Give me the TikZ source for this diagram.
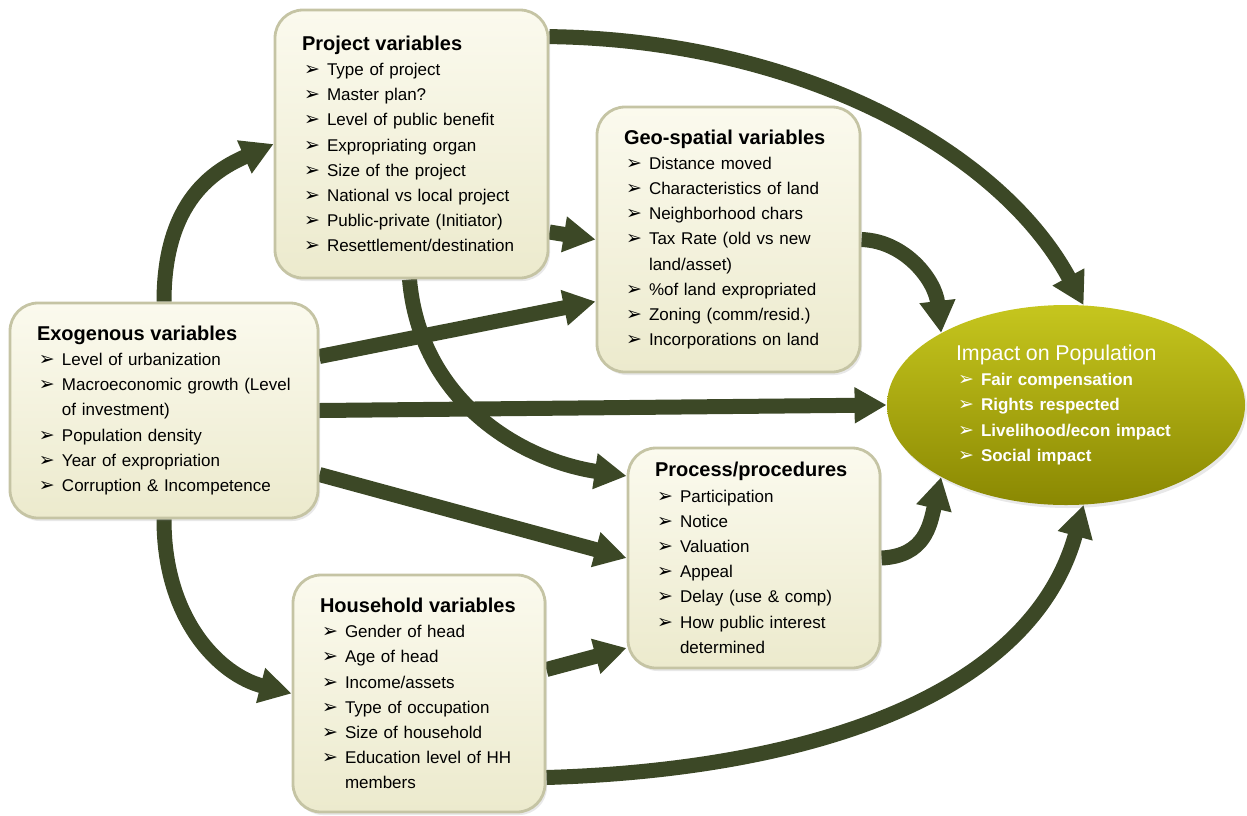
\documentclass[tikz,border=0pt]{standalone}
\usepackage{fontspec}
\setmainfont{Liberation Sans}
\newfontfamily\dingfont{DejaVu Sans}
\usepackage{tikz}
\usetikzlibrary{arrows.meta}
\usetikzlibrary{shapes.geometric}
\usetikzlibrary{shadows}
\usetikzlibrary{backgrounds}
\definecolor{boxtop}{HTML}{FBFAEE}
\definecolor{boxbot}{HTML}{ECEACD}
\definecolor{boxline}{HTML}{C5C4A4}
\definecolor{arrowolive}{HTML}{3C4826}
\definecolor{imptop}{HTML}{C6C61E}
\definecolor{impbot}{HTML}{8A8802}
\newcommand{\bul}{\makebox[12.5pt][l]{\hspace{1pt}{\dingfont\fontsize{9.5}{9}\selectfont ➢}}}
\newcommand{\itm}[1]{\par{\leftskip=12.5pt\noindent\hskip-12.5pt\bul#1\par}}
\newcommand{\wrap}{\hfil\break}
\newcommand{\boxhead}[1]{{\fontsize{10}{12.6}\selectfont\bfseries #1}}
\tikzstyle{varbox} = [draw=boxline, line width=1.4pt, rounded corners=14pt, top color=boxtop, bottom color=boxbot, align=left, inner xsep=13.5pt, inner ysep=0pt, drop shadow={opacity=0.18, shadow xshift=1pt, shadow yshift=-1.5pt}, font=\fontsize{8.5}{12.6}\selectfont]
\tikzstyle{impact} = [ellipse, top color=imptop, bottom color=impbot, text=white, align=left, inner sep=0pt, text width=110pt, minimum width=179pt, minimum height=100pt, drop shadow={opacity=0.18, shadow xshift=1pt, shadow yshift=-1.5pt}, font=\fontsize{8.5}{12.7}\selectfont\bfseries]
\tikzstyle{olivearrow} = [line width=7.5pt, arrowolive, -{Triangle[width=17pt,length=16pt]}]

\begin{document}
\begin{tikzpicture}[x=0.5pt,y=-0.5pt]
	\useasboundingbox (0,0) rectangle (1247,815);
	% variable boxes
	\node[varbox, text width=109.5pt, minimum height=134pt] (proj) at (411.5,144) {\boxhead{Project variables}
		\itm{Type of project}
		\itm{Master plan?}
		\itm{Level of public benefit}
		\itm{Expropriating organ}
		\itm{Size of the project}
		\itm{National vs local project}
		\itm{Public-private (Initiator)}
		\itm{Resettlement/destination}};
	\node[varbox, text width=104.5pt, minimum height=132.5pt] (geo) at (728.5,239.5) {\boxhead{Geo-spatial variables}
		\itm{Distance moved}
		\itm{Characteristics of land}
		\itm{Neighborhood chars}
		\itm{Tax Rate (old vs new\wrap land/asset)}
		\itm{\%of land expropriated}
		\itm{Zoning (comm/resid.)}
		\itm{Incorporations on land}};
	\node[varbox, text width=127pt, minimum height=107.5pt] (exo) at (164,410.5) {\boxhead{Exogenous variables}
		\itm{Level of urbanization}
		\itm{\mbox{Macroeconomic growth (Level}\wrap of investment)}
		\itm{Population density}
		\itm{Year of expropriation}
		\itm{Corruption \& Incompetence}};
	\node[varbox, text width=99pt, minimum height=110pt] (proc) at (754,558) {\boxhead{Process/procedures}
		\itm{Participation}
		\itm{Notice}
		\itm{Valuation}
		\itm{Appeal}
		\itm{Delay (use \& comp)}
		\itm{How public interest\wrap determined}};
	\node[varbox, text width=99pt, minimum height=118.5pt] (hh) at (419,693.5) {\boxhead{Household variables}
		\itm{Gender of head}
		\itm{Age of head}
		\itm{Income/assets}
		\itm{Type of occupation}
		\itm{Size of household}
		\itm{Education level of HH\wrap members}};
	\node[impact] (imp) at (1066,405) {{\fontsize{10.7}{12.7}\selectfont\mdseries Impact on Population}
		\itm{Fair compensation}
		\itm{Rights respected}
		\itm{Livelihood/econ impact}
		\itm{Social impact}};
	% arrows behind the boxes
	\begin{pgfonlayer}{background}
		\draw[olivearrow] ([yshift=-14pt]proj.north east) .. controls (800,40) and (1000,150) .. (imp.80);
		\draw[olivearrow] ([yshift=-44pt]proj.east) -- (geo.west);
		\draw[olivearrow] ([xshift=-1pt]proj.south) .. controls (420,400) and (520,460) .. ([yshift=41pt]proc.west);
		\draw[olivearrow] (exo.north) .. controls (164,200) and (215,170) .. (proj.west);
		\draw[olivearrow] ([yshift=27pt]exo.east) -- ([yshift=-31pt]geo.west);
		\draw[olivearrow] (exo.east) -- (imp.west);
		\draw[olivearrow] ([yshift=-32pt]exo.east) -- (proc.west);
		\draw[olivearrow] (exo.south) .. controls (164,620) and (220,675) .. (hh.west);
		\draw[olivearrow] ([yshift=12pt]hh.east) -- ([yshift=-45pt]proc.west);
		\draw[olivearrow] ([yshift=-42pt]hh.east) .. controls (800,770) and (1030,700) .. (imp.-80);
		\draw[olivearrow] (geo.east) .. controls (905,241) and (935,280) .. (imp.150);
		\draw[olivearrow] (proc.east) .. controls (925,556) and (930,525) .. (imp.210);
	\end{pgfonlayer}
\end{tikzpicture}
\end{document}
